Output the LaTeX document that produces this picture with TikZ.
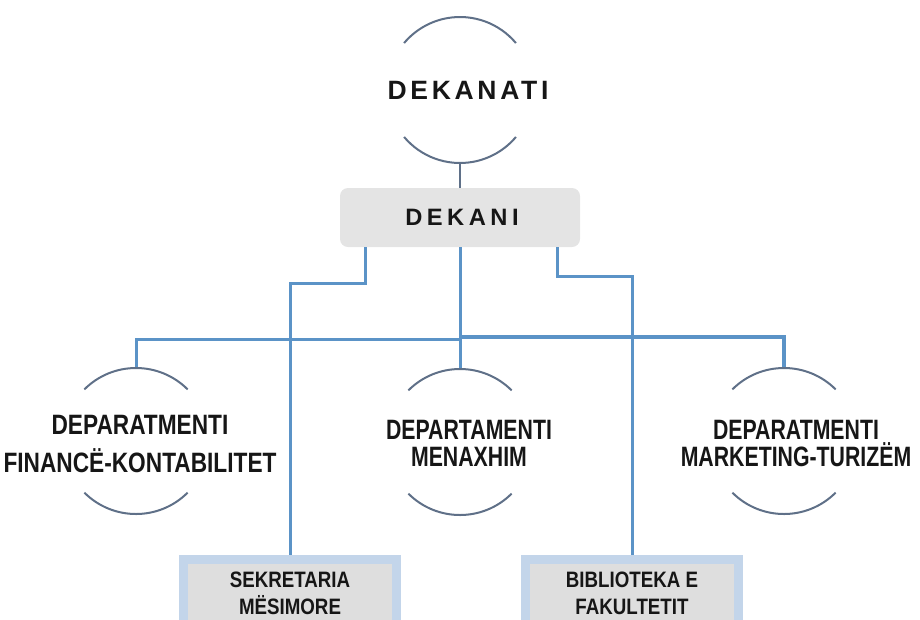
\documentclass[tikz,border=0pt]{standalone}
\usepackage{fontspec}
\setmainfont{Liberation Sans}
\newfontfamily\deptfont[FakeStretch=0.76]{Liberation Sans}
\newfontfamily\deptwidefont[FakeStretch=0.81]{Liberation Sans}
\newfontfamily\boxfont[FakeStretch=0.84]{Liberation Sans}
\newfontfamily\spacedfont[LetterSpace=14]{Liberation Sans}
\newfontfamily\spacedboldfont[LetterSpace=19]{Liberation Sans}
\definecolor{arcgray}{HTML}{5F7088}
\definecolor{connblue}{HTML}{5B93C7}
\definecolor{txt}{HTML}{161616}
\definecolor{dekgray}{HTML}{E4E4E4}
\definecolor{boxblue}{HTML}{C3D5EA}
\definecolor{boxgray}{HTML}{DEDEDE}
\begin{document}
\begin{tikzpicture}[x=1pt,y=-1pt,
  arcline/.style={draw=arcgray,line width=2pt},
  conn/.style={draw=connblue,line width=3pt},
  depttext/.style={text=txt,align=center,inner sep=0pt,font=\deptfont\bfseries\fontsize{28}{27}\selectfont},
  deptwide/.style={text=txt,align=center,inner sep=0pt,font=\deptwidefont\bfseries\fontsize{28}{38}\selectfont},
  bottombox/.style={draw=boxblue,line width=9pt,fill=boxgray,minimum width=213pt,minimum height=67pt,
    text=txt,align=center,inner sep=0pt,font=\boxfont\bfseries\fontsize{22.3}{27}\selectfont},
  dekbox/.style={fill=dekgray,rounded corners=8pt,minimum width=240pt,minimum height=59pt,inner sep=0pt,
    text=txt,font=\spacedboldfont\bfseries\fontsize{23.7}{24}\selectfont},
  toptext/.style={text=txt,inner sep=0pt,font=\spacedfont\bfseries\fontsize{26.5}{27}\selectfont}
]
\useasboundingbox (0,0) rectangle (920,619);
\clip (0,0) rectangle (920,619);

% circle centres
\coordinate (dekc) at (460,90);
\coordinate (finc) at (136,441);
\coordinate (menc) at (460,442);
\coordinate (marc) at (784,441);
\coordinate (dekbot) at (460,163);
\coordinate (fintop) at (136,368);
\coordinate (mentop) at (460,369);
\coordinate (martop) at (784,368);

% DEKANATI
\node[toptext] (dekanati) at (468,90.5) {DEKANATI};
\draw[arcline] ([shift={(40:73pt)}]dekc) arc[start angle=40,end angle=140,radius=73pt];
\draw[arcline] ([shift={(-140:73pt)}]dekc) arc[start angle=-140,end angle=-40,radius=73pt];

% DEKANI
\node[dekbox] (dekani) at (460,217.5) {\hspace*{4pt}DEKANI};
\draw[arcline] (dekbot) -- (dekani.north);

% connectors
\draw[conn] ([xshift=-95pt]dekani.south) |- (290,283) -- (290,555);
\draw[conn] ([xshift=97pt]dekani.south) |- (632,276) -- (632,555);
\draw[conn] (fintop) |- (460,339);
\draw[conn,line width=4pt] (martop) |- (460,337);
\draw[conn] (dekani.south) -- (mentop);

% department arcs
\foreach \c in {finc,menc,marc}{
  \draw[arcline] ([shift={(45:73pt)}]\c) arc[start angle=45,end angle=135,radius=73pt];
  \draw[arcline] ([shift={(-135:73pt)}]\c) arc[start angle=-135,end angle=-45,radius=73pt];
}

% department texts
\node[deptwide] (fin) at (140,444) {DEPARATMENTI\\FINANCË-KONTABILITET};
\node[depttext] (men) at (469,443.5) {DEPARTAMENTI\\MENAXHIM};
\node[depttext] (mar) at (796,443.5) {DEPARATMENTI\\MARKETING-TURIZËM};

% bottom boxes
\node[bottombox,anchor=north] (sek) at (290,555) {SEKRETARIA\\MËSIMORE};
\node[bottombox,anchor=north] (bib) at (632,555) {BIBLIOTEKA E\\FAKULTETIT};
\end{tikzpicture}
\end{document}
